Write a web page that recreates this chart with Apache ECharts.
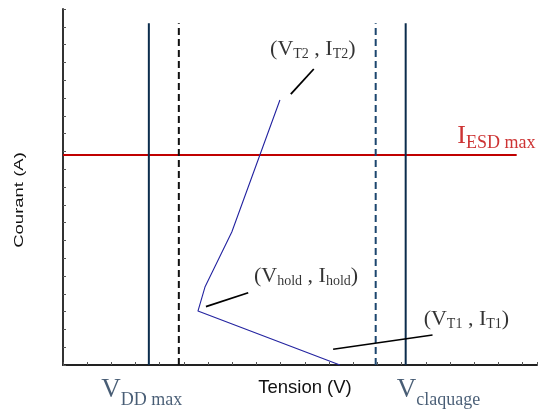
<!DOCTYPE html>
<html>
<head>
<meta charset="utf-8">
<script src="https://cdn.jsdelivr.net/npm/echarts@6/dist/echarts.min.js"></script>
<style>
  html, body { margin: 0; padding: 0; background: #fff; }
  #chart { width: 538px; height: 411px; }
</style>
</head>
<body>
<div id="chart"></div>
<script>
// I–V characteristic of an ESD protection device inside its design window.

// Snapback curve: trigger point (VT1), holding point, then up to (VT2, IT2)
const curveV = [11.45, 5.58, 5.87, 6.98, 8.97];
const curveI = [0, 3.03, 4.38, 7.47, 14.89];

// Design window limits
const vddMax = 3.55;        // VDD max
const vddMargin = 4.79;     // VDD max + margin (dashed)
const vBreakMargin = 12.93; // breakdown - margin (dashed)
const vBreak = 14.17;       // breakdown voltage (V claquage)
const limitTop = 19.2;      // upper end of the vertical limits
const iEsdMax = 11.8;       // maximum ESD current
const iEsdEnd = 18.76;      // right end of the IESD max line

// Leader lines: [v start, i start, v end, i end]
const leaderT2 = [9.42, 15.22, 10.37, 16.63];
const leaderHold = [5.91, 3.28, 7.66, 4.06];
const leaderT1 = [11.17, 0.88, 15.28, 1.69];

// Annotation anchors (V, I) and their texts
const noteV = [10.33, 10.05, 16.68, 17.92, 3.26, 15.53];
const noteI = [17.69, 4.97, 2.53, 12.77, -1.58, -1.58];
const noteText = [
  '{p|(V}{s|T2}{p| , I}{s|T2}{p|)}',
  '{p|(V}{s|hold}{p| , I}{s|hold}{p|)}',
  '{p|(V}{s|T1}{p| , I}{s|T1}{p|)}',
  '{ri|I}{rs|ESD max}',
  '{nv|V}{ns|DD max}',
  '{nv|V}{ns|claquage}'
];

const serif = 'Liberation Serif, Times New Roman, serif';
const sans = 'Liberation Sans, Arial, sans-serif';
const navy = '#0b2c4c';

const curve = curveV.map((v, k) => [v, curveI[k]]);
const vertical = v => [[v, 0], [v, limitTop]];
const seg = s => [[s[0], s[1]], [s[2], s[3]]];
const notes = noteV.map((v, k) => ({ value: [v, noteI[k]], label: { formatter: noteText[k] } }));

function lineSeries(data, color, width, type, z) {
  return {
    type: 'line', data, symbol: 'none', silent: true, animation: false, z: z || 2,
    lineStyle: { color, width, type: type || 'solid', cap: 'butt' }
  };
}

const chart = echarts.init(document.getElementById('chart'), null, { renderer: 'canvas' });

chart.setOption({
  animation: false,
  grid: { left: 63, right: 1, top: 9, bottom: 46 },
  xAxis: {
    type: 'value', min: 0, max: 19.6, interval: 1,
    axisLine: { onZero: false, lineStyle: { color: '#222', width: 2 } },
    axisTick: { inside: true, length: 3, lineStyle: { color: '#555', width: 1 } },
    axisLabel: { show: false },
    splitLine: { show: false },
    name: 'Tension (V)', nameLocation: 'middle', nameGap: 13,
    nameTextStyle: { fontFamily: sans, fontSize: 18.5, color: '#111', padding: [0, 0, 0, 10] }
  },
  yAxis: {
    type: 'value', min: 0, max: 20, interval: 1,
    axisLine: { onZero: false, lineStyle: { color: '#333', width: 2 } },
    axisTick: { inside: true, length: 3, lineStyle: { color: '#555', width: 1 } },
    axisLabel: { show: false },
    splitLine: { show: false }
  },
  graphic: [{
    type: 'text', x: 19.5, y: 200, rotation: Math.PI / 2, scaleY: 0.7,
    style: {
      text: 'Courant (A)', font: '18.5px ' + sans, fill: '#111',
      align: 'center', verticalAlign: 'middle', textAlign: 'center', textVerticalAlign: 'middle'
    }
  }],
  series: [
    lineSeries([[0, iEsdMax], [iEsdEnd, iEsdMax]], '#c00000', 2, 'solid', 2),
    lineSeries(vertical(vddMax), navy, 2, 'solid', 3),
    lineSeries(vertical(vddMargin), '#111', 2, [7, 4], 3),
    lineSeries(vertical(vBreakMargin), '#1c466e', 2, [7, 4], 3),
    lineSeries(vertical(vBreak), navy, 2, 'solid', 3),
    lineSeries(curve, '#2323a0', 1.1, 'solid', 4),
    lineSeries(seg(leaderT2), '#000', 1.8, 'solid', 4),
    lineSeries(seg(leaderHold), '#000', 1.8, 'solid', 4),
    lineSeries(seg(leaderT1), '#000', 1.5, 'solid', 4),
    {
      type: 'scatter', data: notes, symbol: 'circle', symbolSize: 1, clip: false,
      silent: true, animation: false, z: 5,
      itemStyle: { color: 'transparent' },
      label: {
        show: true, position: 'inside', color: '#000',
        rich: {
          p: { fontFamily: serif, fontSize: 22, color: '#000', verticalAlign: 'bottom', padding: [0, 0, 1, 0] },
          s: { fontFamily: serif, fontSize: 14, color: '#000', verticalAlign: 'bottom' },
          ri: { fontFamily: serif, fontSize: 26, color: '#c00000', verticalAlign: 'bottom', padding: [0, 0, 4, 0] },
          rs: { fontFamily: serif, fontSize: 18, color: '#c00000', verticalAlign: 'bottom' },
          nv: { fontFamily: serif, fontSize: 27, color: '#1a3553', verticalAlign: 'bottom', padding: [0, 0, 6, 0] },
          ns: { fontFamily: serif, fontSize: 18, color: '#1a3553', verticalAlign: 'bottom' }
        }
      }
    }
  ]
});
</script>
</body>
</html>
